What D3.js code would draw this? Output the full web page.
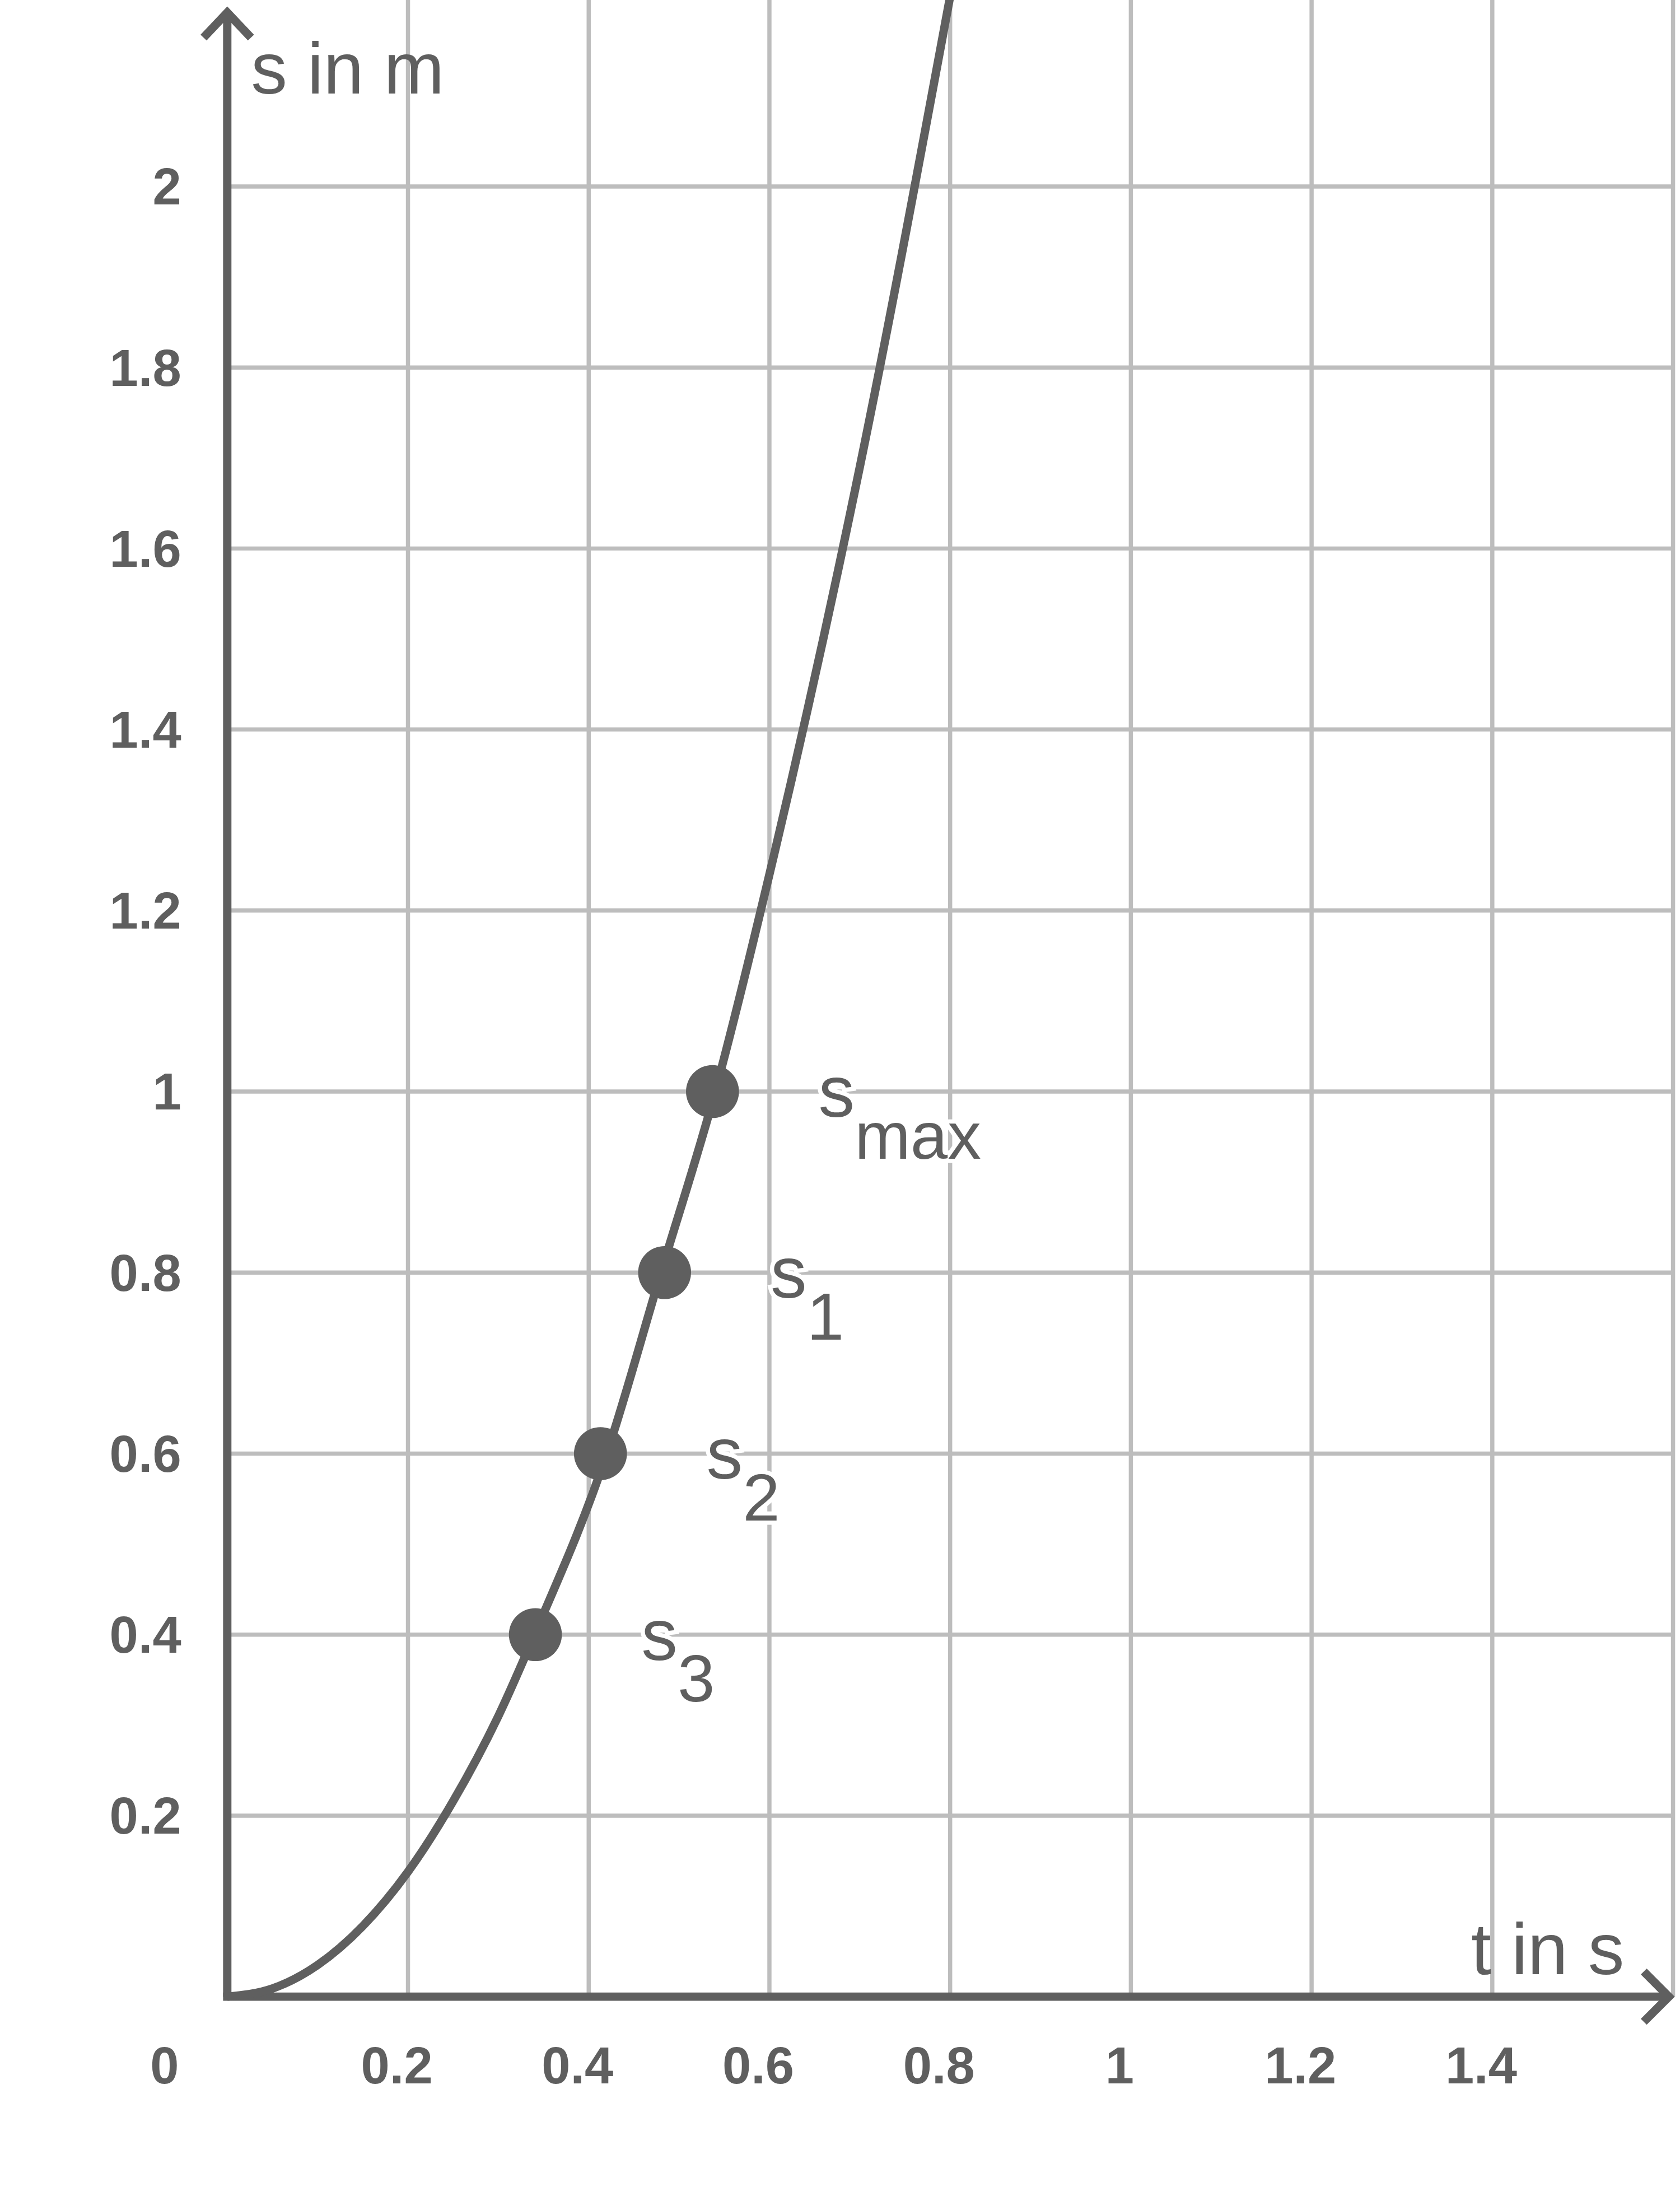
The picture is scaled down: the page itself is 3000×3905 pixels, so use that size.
<!DOCTYPE html>
<html><head><meta charset="utf-8">
<script src="https://cdn.jsdelivr.net/npm/d3@7"></script>
<style>body{margin:0;background:#fff}</style>
</head><body>
<svg id="c" width="3000" height="3905" viewBox="0 0 1205 1568.5"></svg>
<script>
// values
const tTicks = [0.2, 0.4, 0.6, 0.8, 1, 1.2, 1.4];
const sTicks = [0.2, 0.4, 0.6, 0.8, 1, 1.2, 1.4, 1.6, 1.8, 2];
const curveT = [0, 0.05, 0.1, 0.15, 0.2, 0.25, 0.3, 0.34, 0.42, 0.48, 0.54, 0.6, 0.7, 0.8];
const curveS = [0, 0.009, 0.035, 0.078, 0.138, 0.216, 0.31, 0.4, 0.6, 0.8, 1.0, 1.24, 1.69, 2.21];
const pointNames = ["max", "1", "2", "3"];
const pointT = [0.537, 0.484, 0.413, 0.341];
const pointS = [1.0, 0.8, 0.6, 0.4];

const col = "#5f5f5f", grid = "#bdbdbd";
const svg = d3.select("#c");
const x = d3.scaleLinear().domain([0, 1.6]).range([163, 1200]);
const y = d3.scaleLinear().domain([0, 2.206]).range([1432, 0]);

// grid
svg.append("g").selectAll("line").data(tTicks.concat([1.6])).join("line")
  .attr("x1", d => x(d)).attr("x2", d => x(d)).attr("y1", 0).attr("y2", 1432)
  .attr("stroke", grid).attr("stroke-width", 3);
svg.append("g").selectAll("line").data(sTicks).join("line")
  .attr("x1", 163).attr("x2", 1200).attr("y1", d => y(d)).attr("y2", d => y(d))
  .attr("stroke", grid).attr("stroke-width", 3);

// tick labels
const font = "'Liberation Sans', Arial, sans-serif";
svg.append("g").selectAll("text").data(sTicks).join("text")
  .attr("x", 130).attr("y", d => y(d) + 13).attr("text-anchor", "end")
  .attr("font-family", font).attr("font-weight", "bold").attr("font-size", 37)
  .attr("fill", col).text(d => d);
svg.append("g").selectAll("text").data(tTicks).join("text")
  .attr("x", d => x(d) - 8).attr("y", 1494).attr("text-anchor", "middle")
  .attr("font-family", font).attr("font-weight", "bold").attr("font-size", 37)
  .attr("fill", col).text(d => d);
svg.append("text").attr("x", 118).attr("y", 1494).attr("text-anchor", "middle")
  .attr("font-family", font).attr("font-weight", "bold").attr("font-size", 37)
  .attr("fill", col).text("0");

// axes
svg.append("line").attr("x1", 163).attr("x2", 163).attr("y1", 1432).attr("y2", 8)
  .attr("stroke", col).attr("stroke-width", 6);
svg.append("line").attr("x1", 160).attr("x2", 1196).attr("y1", 1432).attr("y2", 1432)
  .attr("stroke", col).attr("stroke-width", 6);
svg.append("path").attr("d", "M146,27 L163,9 L180,27").attr("fill", "none")
  .attr("stroke", col).attr("stroke-width", 6);
svg.append("path").attr("d", "M1179,1414 L1197,1432 L1179,1450").attr("fill", "none")
  .attr("stroke", col).attr("stroke-width", 6);
svg.append("text").attr("x", 180).attr("y", 67).attr("font-family", font)
  .attr("font-size", 52).attr("fill", col).text("s in m");
svg.append("text").attr("x", 1165).attr("y", 1416).attr("text-anchor", "end")
  .attr("font-family", font).attr("font-size", 52).attr("fill", col).text("t in s");

// curve
const pts = curveT.map((t, i) => [t, curveS[i]]);
svg.append("path").datum(pts)
  .attr("d", d3.line().x(d => x(d[0])).y(d => y(d[1])).curve(d3.curveMonotoneX))
  .attr("fill", "none").attr("stroke", col).attr("stroke-width", 6);

// points and labels
const pdat = pointT.map((t, i) => ({ t, s: pointS[i], n: pointNames[i] }));
svg.append("g").selectAll("circle").data(pdat).join("circle")
  .attr("cx", d => x(d.t)).attr("cy", d => y(d.s)).attr("r", 19).attr("fill", col);
const lab = svg.append("g").selectAll("text").data(pdat).join("text")
  .attr("x", d => x(d.t) + 76).attr("y", d => y(d.s) + 18)
  .attr("font-family", font).attr("font-size", 52).attr("fill", col)
  .attr("stroke", "#fff").attr("stroke-width", 6).attr("paint-order", "stroke");
lab.append("tspan").text("s");
lab.append("tspan").attr("dy", 30).attr("font-size", 48).text(d => d.n);
</script>
</body></html>
